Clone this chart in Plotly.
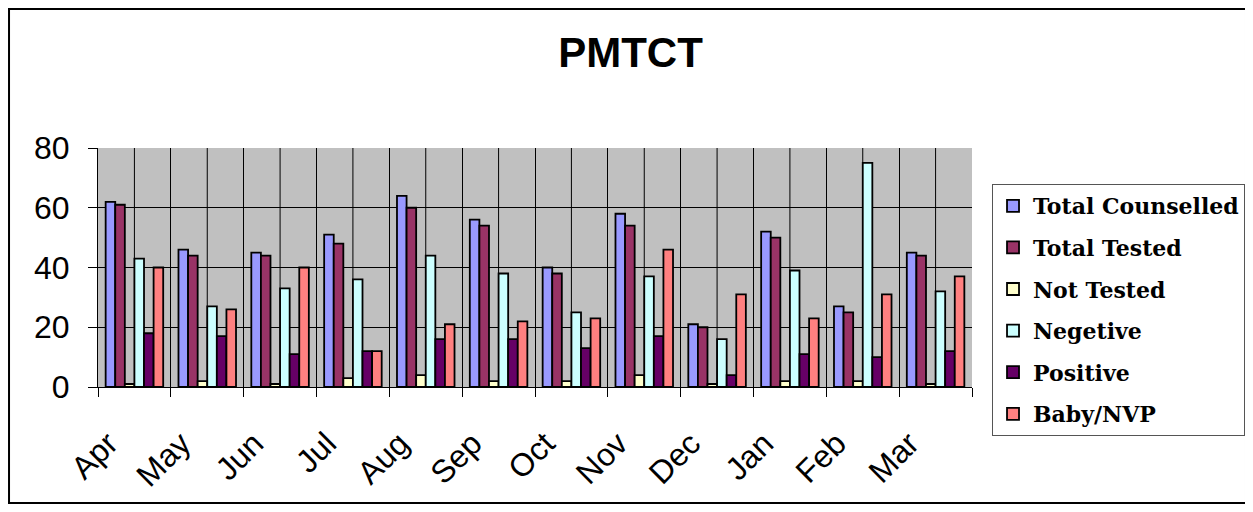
import plotly.graph_objects as go

months = ["Apr", "May", "Jun", "Jul", "Aug", "Sep",
          "Oct", "Nov", "Dec", "Jan", "Feb", "Mar"]

total_counselled = [62, 46, 45, 51, 64, 56, 40, 58, 21, 52, 27, 45]
total_tested     = [61, 44, 44, 48, 60, 54, 38, 54, 20, 50, 25, 44]
not_tested       = [1, 2, 1, 3, 4, 2, 2, 4, 1, 2, 2, 1]
negative         = [43, 27, 33, 36, 44, 38, 25, 37, 16, 39, 75, 32]
positive         = [18, 17, 11, 12, 16, 16, 13, 17, 4, 11, 10, 12]
baby_nvp         = [40, 26, 40, 12, 21, 22, 23, 46, 31, 23, 31, 37]

series = [
    ("Total Counselled", total_counselled, "#9999FF"),
    ("Total Tested", total_tested, "#993366"),
    ("Not Tested", not_tested, "#FFFFCC"),
    ("Negetive", negative, "#CCFFFF"),
    ("Positive", positive, "#660066"),
    ("Baby/NVP", baby_nvp, "#FF8080"),
]

fig = go.Figure()
for name, vals, color in series:
    fig.add_trace(go.Bar(
        x=months, y=vals, name=name, legendgroup=name,
        marker=dict(color=color, line=dict(color="black", width=1.8)),
    ))

# mid-category vertical gridlines (Excel style)
for m in months:
    fig.add_vline(x=m, line=dict(color="black", width=1), layer="below")

# outer chart border
fig.add_shape(type="rect", xref="paper", yref="paper",
              x0=-0.1018, x1=1.3135, y0=-0.4854, y1=1.5816,
              line=dict(color="black", width=2))

# page body has an 8px margin, so the figure is 8px smaller than the window
fig.update_layout(
    width=1245, height=504,
    margin=dict(l=90, r=281, t=140, b=125, autoexpand=False),
    paper_bgcolor="white", plot_bgcolor="#C0C0C0",
    barmode="group", bargap=0.21, bargroupgap=0,
    title=dict(text="<b>PMTCT</b>", x=0.5, xref="container",
               y=0.912, yanchor="middle",
               font=dict(family="Arial", size=42, color="black")),
    legend=dict(x=1.0229, y=0.8494, xanchor="left", yanchor="top",
                bordercolor="#555555", borderwidth=1, bgcolor="white",
                tracegroupgap=10, maxheight=600,
                font=dict(family="DejaVu Serif", size=22, color="black",
                          weight="bold")),
    font=dict(family="Arial", color="black"),
)

fig.update_yaxes(range=[0, 80], dtick=20, showgrid=True, gridcolor="black",
                 gridwidth=1, showline=True, linecolor="black", linewidth=1,
                 ticks="outside", ticklen=9, tickcolor="black",
                 ticklabelstandoff=12,
                 tickfont=dict(family="Arial", size=32),
                 zeroline=False)
fig.update_xaxes(type="category", tickson="boundaries", showgrid=True,
                 gridcolor="black", gridwidth=1, showline=True,
                 linecolor="black", linewidth=1, ticks="outside", ticklen=9,
                 tickcolor="black", tickangle=-45, ticklabelshift=-26,
                 ticklabelstandoff=24,
                 tickfont=dict(family="Arial", size=32))

fig.write_html("out.html")
